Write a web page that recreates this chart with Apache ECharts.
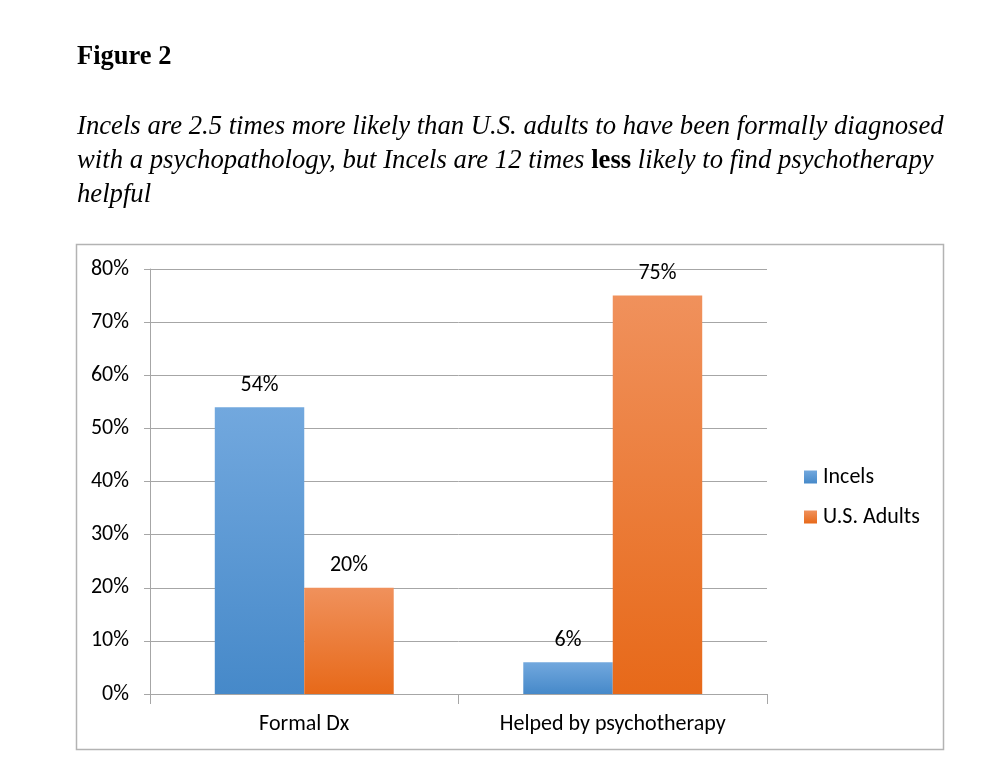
<!DOCTYPE html>
<html>
<head>
<meta charset="utf-8">
<script src="https://cdn.jsdelivr.net/npm/echarts@6/dist/echarts.min.js"></script>
<style>
    html, body { margin: 0; padding: 0; background: #fff; }
    #main { width: 998px; height: 778px; }
</style>
</head>
<body>
<div id="main"></div>
<script>
    // data
    var categories = ['Formal Dx', 'Helped by psychotherapy'];
    var seriesNames = ['Incels', 'U.S. Adults'];
    var incelsValues = [0.54, 0.06];
    var usAdultsValues = [0.20, 0.75];
    var yTicks = { min: 0, max: 0.8, interval: 0.1 };

    var labelFont = 'Carlito, Lato, sans-serif';
    var serifFont = 'Liberation Serif, serif';

    function pct(v) {
        return Math.round(v * 100) + '%';
    }

    function barGradient(top, bottom) {
        return new echarts.graphic.LinearGradient(0, 0, 0, 1, [
            { offset: 0, color: top },
            { offset: 1, color: bottom }
        ]);
    }

    var option = {
        animation: false,
        backgroundColor: '#ffffff',
        title: [
            {
                text: 'Figure 2',
                left: 77,
                top: 44,
                padding: 0,
                textStyle: {
                    fontFamily: serifFont,
                    fontWeight: 'bold',
                    fontSize: 26.5,
                    color: '#000'
                }
            },
            {
                text: '{i|Incels are 2.5 times more likely than U.S. adults to have been formally diagnosed}\n' +
                      '{i|with a psychopathology, but Incels are 12 times }{b|less}{i| likely to find psychotherapy}\n' +
                      '{i|helpful}',
                left: 77,
                top: 110,
                padding: 0,
                textStyle: {
                    fontWeight: 'normal',
                    rich: {
                        i: {
                            fontFamily: serifFont,
                            fontStyle: 'italic',
                            fontWeight: 'normal',
                            fontSize: 26.7,
                            lineHeight: 34,
                            color: '#000'
                        },
                        b: {
                            fontFamily: serifFont,
                            fontStyle: 'normal',
                            fontWeight: 'bold',
                            fontSize: 26.7,
                            lineHeight: 34,
                            color: '#000'
                        }
                    }
                }
            }
        ],
        graphic: [
            {
                type: 'rect',
                shape: { x: 76.5, y: 244.5, width: 867, height: 505 },
                style: { fill: 'none', stroke: '#b3b3b3', lineWidth: 1.5 },
                silent: true,
                z: -1
            }
        ],
        legend: {
            orient: 'vertical',
            left: 804,
            top: 466,
            padding: 0,
            itemWidth: 13,
            itemHeight: 13,
            itemGap: 18,
            icon: 'rect',
            data: seriesNames,
            textStyle: { fontFamily: labelFont, fontSize: 22, lineHeight: 22, color: '#000', padding: [0, 0, 0, 1] }
        },
        grid: {
            left: 150,
            right: 231,
            top: 269,
            bottom: 84
        },
        xAxis: {
            type: 'category',
            data: categories,
            axisLine: { lineStyle: { color: '#a6a6a6', width: 1 } },
            axisTick: { show: true, length: 10, lineStyle: { color: '#a6a6a6' } },
            axisLabel: { fontFamily: labelFont, fontSize: 22, color: '#000', margin: 19 }
        },
        yAxis: {
            type: 'value',
            min: yTicks.min,
            max: yTicks.max,
            interval: yTicks.interval,
            axisLine: { show: true, lineStyle: { color: '#a6a6a6', width: 1 } },
            axisTick: { show: true, length: 6, lineStyle: { color: '#a6a6a6' } },
            axisLabel: {
                fontFamily: labelFont,
                fontSize: 22,
                color: '#000',
                margin: 21,
                formatter: function (v) { return pct(v); }
            },
            splitLine: { lineStyle: { color: '#a6a6a6', width: 1 } }
        },
        series: [
            {
                name: seriesNames[0],
                type: 'bar',
                data: incelsValues,
                barGap: '0%',
                barCategoryGap: '42%',
                itemStyle: { color: barGradient('#72a8de', '#4689c9') },
                label: {
                    show: true,
                    position: 'top',
                    distance: 11,
                    fontFamily: labelFont,
                    fontSize: 22,
                    color: '#000',
                    formatter: function (p) { return pct(p.value); }
                }
            },
            {
                name: seriesNames[1],
                type: 'bar',
                data: usAdultsValues,
                barGap: '0%',
                barCategoryGap: '42%',
                itemStyle: { color: barGradient('#f0915c', '#e76919') },
                label: {
                    show: true,
                    position: 'top',
                    distance: 11,
                    fontFamily: labelFont,
                    fontSize: 22,
                    color: '#000',
                    formatter: function (p) { return pct(p.value); }
                }
            }
        ]
    };

    var myChart = echarts.init(document.getElementById('main'));
    myChart.setOption(option, true);
</script>
</body>
</html>
